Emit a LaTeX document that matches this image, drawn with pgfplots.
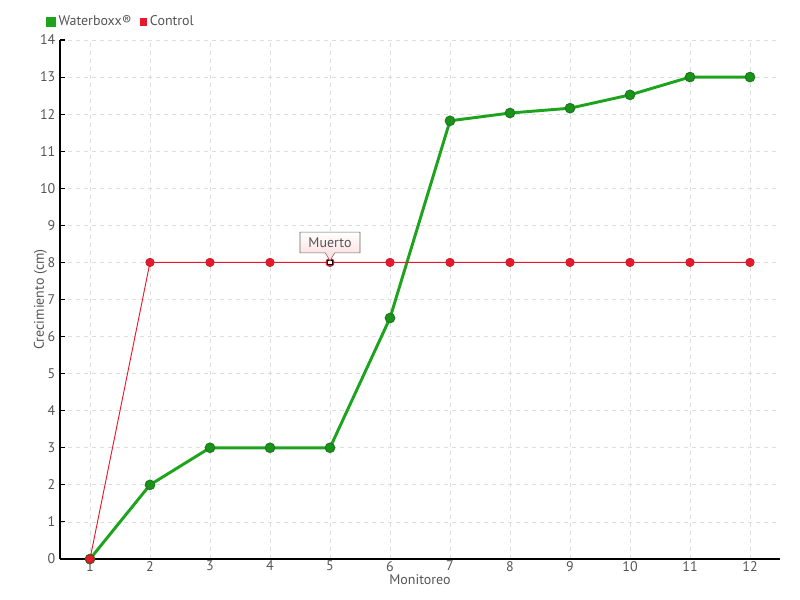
\documentclass[border=0pt]{standalone}
\usepackage{pgfplots}
\pgfplotsset{compat=1.18}
\usepackage{fontspec}
\setmainfont{PT Sans}
\usetikzlibrary{shapes.callouts,shadings}
\definecolor{wgreen}{HTML}{1DA31D}
\definecolor{wgreendark}{HTML}{1E7A1E}
\definecolor{cred}{HTML}{E8192C}
\definecolor{txtgray}{HTML}{555555}
\definecolor{gridgray}{HTML}{DDDDDD}
\begin{document}
\begin{tikzpicture}[x=1pt,y=1pt]
\useasboundingbox (-45pt,-30.75pt) rectangle (555pt,419.25pt);
\begin{axis}[
  scale only axis,
  width=540pt, height=389.25pt,
  at={(0,0)}, anchor=south west,
  xmin=0.5, xmax=12.5, ymin=0, ymax=14,
  xtick={1,...,12}, ytick={0,...,14},
  axis lines*=left,
  axis line style={black, line width=0.8pt},
  grid=major,
  major grid style={gridgray, dashed, line width=0.6pt},
  xtick style={draw=none},
  ytick style={black, line width=0.8pt},
  major tick length=4pt,
  tick label style={font=\fontsize{10.5}{12}\selectfont, text=txtgray},
  /pgf/number format/assume math mode=true,
  xticklabel style={yshift=2pt},
  xlabel={Monitoreo},
  ylabel={Crecimiento (cm)},
  label style={font=\fontsize{10.5}{12}\selectfont, text=txtgray},
  xlabel style={yshift=4pt},
  ylabel style={yshift=-12pt},
  legend columns=2,
  legend style={at={(-0.0194,1.0347)}, anchor=west, draw=none, fill=none,
    font=\fontsize{10.5}{12}\selectfont, text=txtgray,
    inner sep=0pt, /tikz/every even column/.append style={column sep=4pt}},
  legend image code/.code={\fill[#1] (0pt,-2.5pt) rectangle (5pt,2.5pt);},
  clip=false,
]
\addplot[wgreen, line width=2.2pt, mark=*, mark size=3.6pt,
  mark options={fill=wgreen!90!black, draw=wgreendark, line width=0.8pt}]
  coordinates {(1,0) (2,2) (3,3) (4,3) (5,3) (6,6.5) (7,11.82) (8,12.03) (9,12.16) (10,12.52) (11,13) (12,13)};
\addlegendentry{Waterboxx®}
\addplot[cred, line width=0.7pt, mark=*, mark size=3.2pt,
  mark options={fill=cred, draw=cred!80!black, line width=0.4pt}]
  coordinates {(1,0) (2,8) (3,8) (4,8) (5,8) (6,8) (7,8) (8,8) (9,8) (10,8) (11,8) (12,8)};
\addlegendentry{Control}
\addplot[forget plot, only marks, mark=square*, mark size=1.6pt,
  mark options={fill=white, draw=black, line width=0.8pt},
  nodes near coords={Muerto},
  every node near coord/.style={rectangle callout, draw=gray!80!black, line width=0.4pt,
    top color=white, bottom color=red!15, text=txtgray,
    font=\fontsize{10.5}{12}\selectfont, inner xsep=5pt, inner ysep=4pt,
    minimum width=45pt, anchor=south, yshift=7pt,
    callout relative pointer={(270:6pt)}}]
  coordinates {(5,8)};
\end{axis}
\end{tikzpicture}
\end{document}
